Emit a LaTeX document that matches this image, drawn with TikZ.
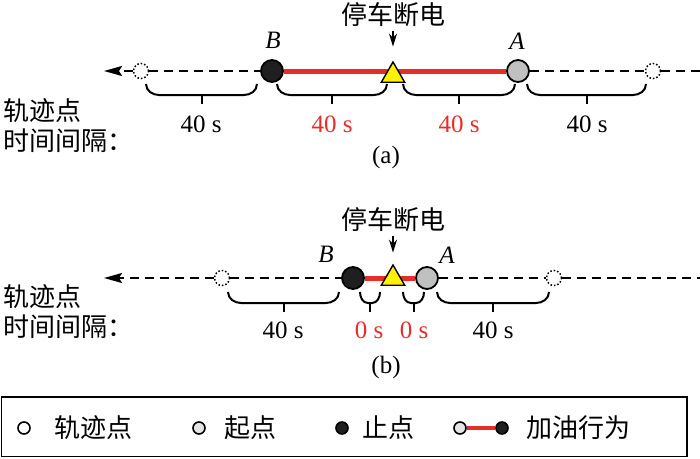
\documentclass[tikz,border=0pt]{standalone}
\usepackage{fontspec}
\setmainfont{Liberation Serif}
\newfontfamily\cjk{Noto Sans CJK SC}
\usetikzlibrary{arrows.meta,shapes.geometric}
\definecolor{redl}{RGB}{232,44,40}
\definecolor{grayf}{RGB}{192,192,192}
\definecolor{grayl}{RGB}{228,228,228}
\definecolor{yel}{RGB}{255,242,0}
\newcommand\mybrace[4]{%
  \draw[brc] (#1,-#3) to[out=-90,in=180] ({#1+#4},{-#3-11}) -- ({#2-#4},{-#3-11}) to[out=0,in=-90] (#2,-#3);
  \draw[brc] ({(#1+#2)/2},{-#3-11}) -- ({(#1+#2)/2},{-#3-20});}
\tikzset{
  trk/.style={circle,draw,dotted,line width=1.5pt,fill=white,minimum size=15pt,inner sep=0pt},
  stp/.style={circle,draw,line width=1.8pt,fill=black!88,minimum size=22pt,inner sep=0pt},
  srt/.style={circle,draw,line width=1.8pt,fill=grayf,minimum size=22pt,inner sep=0pt},
  tri/.style={regular polygon,regular polygon sides=3,draw,line width=1.4pt,fill=yel,minimum size=27pt,inner sep=0pt},
  dsh/.style={line width=2pt,dash pattern=on 9pt off 6pt},
  refuel/.style={line width=5pt,draw=redl},
  brc/.style={line width=2pt},
  lbl/.style={font=\fontsize{25}{30}\selectfont,inner sep=0pt},
  rlbl/.style={lbl,text=redl},
  ilbl/.style={font=\fontsize{25}{30}\selectfont\itshape,inner sep=0pt},
  cjkl/.style={font=\fontsize{26}{30}\selectfont\cjk,inner sep=0pt},
  downarr/.style={line width=1.5pt,-{Stealth[length=13pt,width=8pt]}},
  leftarr/.style={dsh,-{Stealth[length=18pt,width=10pt,inset=3pt]}},
  lgtrk/.style={circle,draw,line width=1.6pt,fill=white,minimum size=12pt,inner sep=0pt},
  lgsrt/.style={circle,draw,line width=1.6pt,fill=grayl,minimum size=12pt,inner sep=0pt},
  lgstp/.style={circle,draw,line width=1.6pt,fill=black!88,minimum size=12pt,inner sep=0pt},
}
\begin{document}
\begin{tikzpicture}[x=1pt,y=1pt]
\useasboundingbox (0,0) rectangle (700,-458);
% ---------- panel (a) ----------
\node[trk] (a1) at (141,-71) {};
\node[stp] (B1) at (272,-71) {};
\node[srt] (A1) at (518,-71) {};
\node[trk] (a2) at (653,-71) {};
\coordinate (la) at (104,-71);
\coordinate (ra) at (700,-71);
\draw[leftarr] (a1) -- (la);
\draw[dsh] (a1) -- (B1);
\draw[dsh] (A1) -- (a2);
\draw[dsh] (a2) -- (ra);
\draw[refuel] (B1) -- (A1);
\node[tri] (T1) at (393,-75.5) {};
\node[cjkl] (stopa) at (393,-15) {停车断电};
\draw[downarr,shorten <=4pt,shorten >=14pt] (stopa) -- (T1);
\node[ilbl] (Bl1) at (273,-40) {B};
\node[ilbl] (Al1) at (517,-41) {A};
\mybrace{146}{257}{84}{13}
\mybrace{277}{387}{84}{13}
\mybrace{403}{515}{84}{13}
\mybrace{527}{646}{84}{13}
\node[lbl] (ta1) at (201,-124) {40 s};
\node[rlbl] (ta2) at (332,-124) {40 s};
\node[rlbl] (ta3) at (459,-124) {40 s};
\node[lbl] (ta4) at (587,-124) {40 s};
\node[cjkl,anchor=west] (ga1) at (3,-111) {轨迹点};
\node[cjkl,anchor=west] (ga2) at (3,-141) {时间间隔：};
\node[lbl] (capa) at (386,-157) {(a)};
% ---------- panel (b) ----------
\node[trk] (b1) at (222,-278) {};
\node[stp] (B2) at (353,-278) {};
\node[srt] (A2) at (427,-278) {};
\node[trk] (b2) at (554,-278) {};
\coordinate (lb) at (104,-278);
\coordinate (rb) at (700,-278);
\draw[leftarr] (b1) -- (lb);
\draw[dsh] (b1) -- (B2);
\draw[dsh] (A2) -- (b2);
\draw[dsh] (b2) -- (rb);
\draw[refuel] (B2) -- (A2);
\node[tri] (T2) at (393,-278.5) {};
\node[cjkl] (stopb) at (393,-220) {停车断电};
\draw[downarr,shorten <=4pt,shorten >=11pt] (stopb) -- (T2);
\node[ilbl] (Bl2) at (326,-254) {B};
\node[ilbl] (Al2) at (447,-255) {A};
\mybrace{228}{339}{292}{13}
\mybrace{360}{380}{292}{8}
\mybrace{403}{424}{292}{8}
\mybrace{437}{549}{292}{13}
\node[lbl] (tb1) at (283,-330) {40 s};
\node[rlbl] (tb2) at (369,-330) {0 s};
\node[rlbl] (tb3) at (414,-330) {0 s};
\node[lbl] (tb4) at (493,-330) {40 s};
\node[cjkl,anchor=west] (gb1) at (3,-297) {轨迹点};
\node[cjkl,anchor=west] (gb2) at (3,-327) {时间间隔：};
\node[lbl] (capb) at (386,-367) {(b)};
% ---------- legend ----------
\draw[line width=1.8pt] (1.5,-397) rectangle (687,-456.5);
\node[lgtrk] (L1) at (24,-428) {};
\node[cjkl] (L1t) at (93,-428) {轨迹点};
\node[lgsrt] (L2) at (199,-428) {};
\node[cjkl] (L2t) at (250,-428) {起点};
\node[lgstp] (L3) at (342,-428) {};
\node[cjkl] (L3t) at (388,-428) {止点};
\node[lgsrt] (L4a) at (460,-428) {};
\node[lgstp] (L4b) at (502,-428) {};
\draw[line width=4pt,draw=redl] (L4a) -- (L4b);
\node[cjkl] (L4t) at (578,-428) {加油行为};
\end{tikzpicture}
\end{document}
